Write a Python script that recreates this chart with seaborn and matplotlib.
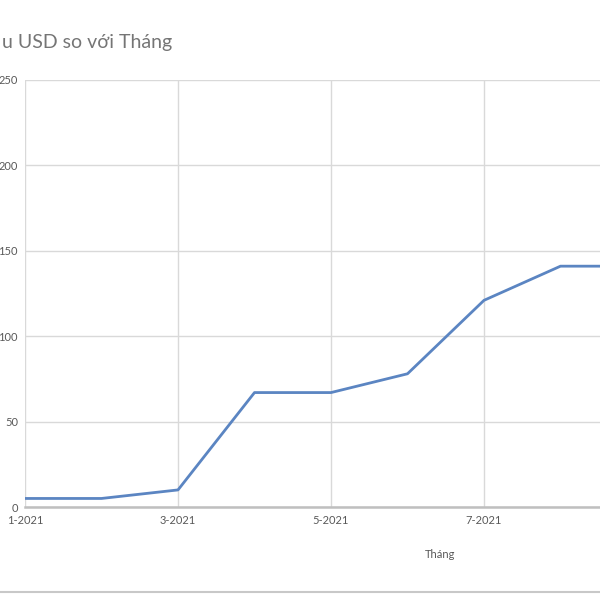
import matplotlib
matplotlib.use("Agg")
import matplotlib.pyplot as plt
from matplotlib.lines import Line2D
import seaborn as sns
import pandas as pd

months = ["1-2021", "2-2021", "3-2021", "4-2021", "5-2021", "6-2021", "7-2021", "8-2021", "9-2021"]
usd = [5, 5, 10, 67, 67, 78, 121, 141, 141]
y_ticks = [0, 50, 100, 150, 200, 250]
title_text = "u USD so với Tháng"
x_label = "Tháng"

sns.set_theme(style="white")
plt.rcParams["font.family"] = ["Lato", "DejaVu Sans"]

df = pd.DataFrame({"idx": range(len(months)), "Tháng": months, "USD": usd})

W = H = 600
fig = plt.figure(figsize=(6, 6), dpi=100)
left, right, bottom, top = 25, 600, 507, 80
ax = fig.add_axes([left / W, 1 - bottom / H, (right - left) / W, (bottom - top) / H])

sns.lineplot(data=df, x="idx", y="USD", ax=ax, color="#5b85c2", linewidth=2.0)

px_per_month = 76.5
xmax = (right - left) / px_per_month
tick_idx = [i for i in range(0, len(months), 2) if i <= xmax]
ax.set_xticks(tick_idx)
ax.set_xticklabels([months[i] for i in tick_idx])
ax.set_yticks(y_ticks)
ax.set_yticklabels([str(v) for v in y_ticks])
ax.set_xlim(0, xmax)
ax.set_ylim(0, 250)
ax.grid(True, color="#d9d9d9", linewidth=1.0)
ax.set_axisbelow(True)
for s in ["top", "right", "left"]:
    ax.spines[s].set_visible(False)
ax.spines["bottom"].set_color("#bfbfbf")
ax.spines["bottom"].set_linewidth(1.8)
ax.tick_params(axis="both", length=0, labelsize=8, labelcolor="#595959")
ax.tick_params(axis="x", pad=6)
ax.tick_params(axis="y", pad=5)
ax.set_xlabel("")
ax.set_ylabel("")

fig.text(2 / W, 1 - 48 / H, title_text, fontsize=14, color="#757575", ha="left", va="baseline")
fig.text(440 / W, 1 - 555 / H, x_label, fontsize=8, color="#595959", ha="center", va="center")
fig.add_artist(Line2D([0, 1], [1 - 592 / H, 1 - 592 / H], color="#c8c8c8", linewidth=1.5,
                      transform=fig.transFigure))

fig.savefig("out.png", dpi=100)
